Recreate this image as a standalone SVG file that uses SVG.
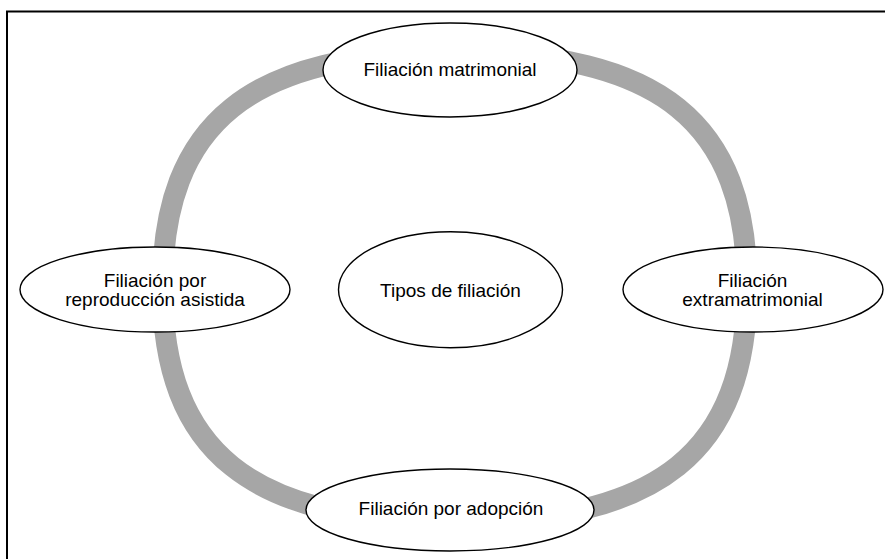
<svg xmlns="http://www.w3.org/2000/svg" width="885" height="559" viewBox="0 0 885 559">
<style>
.node ellipse{fill:#ffffff;stroke:#000000;stroke-width:1.4}
.node text{font-family:"Liberation Sans",Arial,sans-serif;font-size:19px;fill:#000000;text-anchor:middle}
.ring{fill:none;stroke:#a6a6a6;stroke-width:21}
</style>
<rect width="885" height="559" fill="#ffffff"/>
<path d="M7,559 V11.5 H885" fill="none" stroke="#000000" stroke-width="2"/>
<g id="connectors">
<path class="ring" d="M162.5,287 C162.5,122.5 250.25,52 455,52 C659.75,52 747,122.5 747,287 C747,451.5 659.75,522 455,522 C250.25,522 162.5,451.5 162.5,287 Z"/>
</g>
<g id="node-top" class="node">
<ellipse cx="450" cy="70" rx="127" ry="47"/>
<text x="450" y="76">Filiación matrimonial</text>
</g>
<g id="node-left" class="node">
<ellipse cx="155" cy="289.5" rx="135" ry="42.5"/>
<text x="155" y="286.5">Filiación por</text>
<text x="155" y="305.5">reproducción asistida</text>
</g>
<g id="node-right" class="node">
<ellipse cx="753" cy="289.5" rx="130" ry="42.5"/>
<text x="752.5" y="286.5">Filiación</text>
<text x="752.5" y="305.5">extramatrimonial</text>
</g>
<g id="node-bottom" class="node">
<ellipse cx="450" cy="510" rx="144" ry="41"/>
<text x="451" y="515">Filiación por adopción</text>
</g>
<g id="node-center" class="node">
<ellipse cx="450.5" cy="289.7" rx="112" ry="58"/>
<text x="450.5" y="297">Tipos de filiación</text>
</g>
</svg>
